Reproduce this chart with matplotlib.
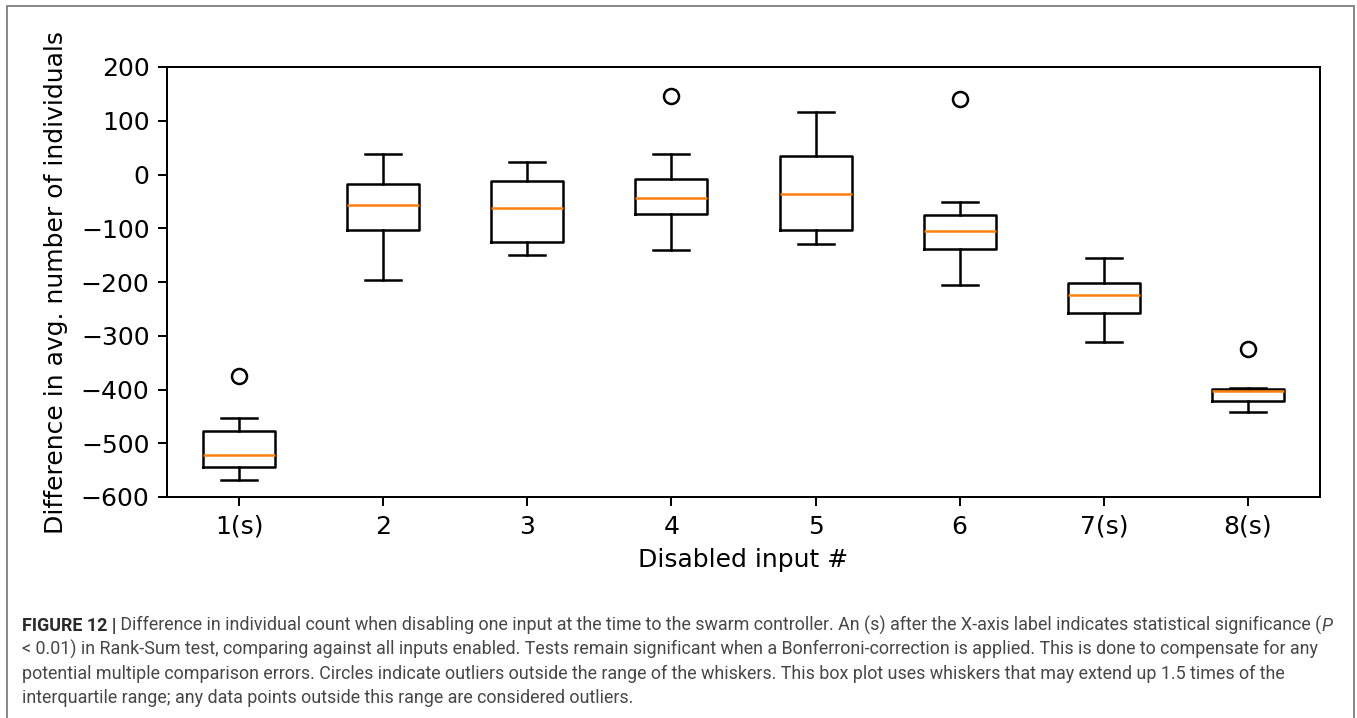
import matplotlib
matplotlib.use("Agg")
import matplotlib.pyplot as plt
from matplotlib.patches import Rectangle

# ---- data ----
labels = ['1(s)', '2', '3', '4', '5', '6', '7(s)', '8(s)']
q1 = [-545, -103, -125, -73, -104, -139, -257, -422]
med = [-521, -56, -62, -44, -36, -106, -224, -403]
q3 = [-478, -18, -12, -9, 34, -76, -202, -399]
whislo = [-568, -196, -149, -140, -130, -206, -311, -442]
whishi = [-453, 39, 23, 39, 116, -52, -156, -397]
fliers = [[-374], [], [], [146], [], [140], [], [-324]]
yticks = [200, 100, 0, -100, -200, -300, -400, -500, -600]

caption_lines = [
    [("FIGURE 12 |", "bold", "normal"),
     (" Difference in individual count when disabling one input at the time to the swarm controller. An (s) after the X-axis label indicates statistical significance (", "normal", "normal"),
     ("P", "normal", "italic")],
    [("< 0.01) in Rank-Sum test, comparing against all inputs enabled. Tests remain significant when a Bonferroni-correction is applied. This is done to compensate for any", "normal", "normal")],
    [("potential multiple comparison errors. Circles indicate outliers outside the range of the whiskers. This box plot uses whiskers that may extend up 1.5 times of the", "normal", "normal")],
    [("interquartile range; any data points outside this range are considered outliers.", "normal", "normal")],
]

W, H = 1357, 718
DPI = 180
fig = plt.figure(figsize=(W / DPI, H / DPI), dpi=DPI)
ax = fig.add_axes([167 / W, 1 - 497 / H, (1320 - 167) / W, (497 - 67) / H])

stats = []
for i in range(len(labels)):
    stats.append(dict(label=labels[i], q1=q1[i], med=med[i], q3=q3[i],
                      whislo=whislo[i], whishi=whishi[i], fliers=fliers[i]))
ax.bxp(stats, showfliers=True)
ax.set_ylim(-600, 200)
ax.set_yticks(yticks)
ax.set_xlabel("Disabled input #")
ax.set_ylabel("Difference in avg. number of individuals", labelpad=5)

# outer frame
fig.patches.append(Rectangle((7 / W, -0.02), (1354 - 7) / W, 1.02 - 6 / H,
                             transform=fig.transFigure, fill=False,
                             edgecolor='#7a7a7a', linewidth=0.7))

# caption
renderer = fig.canvas.get_renderer()
FAM = ['Roboto', 'DejaVu Sans']


def draw_line(segs, x_px, y_px, size):
    arts = []
    x = x_px
    for txt, weight, style in segs:
        col = '#2a2a2a' if weight == 'bold' else '#474747'
        t = fig.text(x / W, 1 - y_px / H, txt, fontsize=size, fontweight=weight,
                     fontstyle=style, color=col, family=FAM, va='baseline', ha='left')
        bb = t.get_window_extent(renderer=renderer)
        x += bb.width
        arts.append(t)
    return arts, x - x_px


arts, w0 = draw_line(caption_lines[0], 22, 630.7, 8)
for a in arts:
    a.remove()
size = 8 * (1308 / w0)
baselines = [630.7, 655.0, 679.2, 703.4]
for segs, yb in zip(caption_lines, baselines):
    draw_line(segs, 22, yb, size)

fig.savefig("out.png", dpi=DPI)
